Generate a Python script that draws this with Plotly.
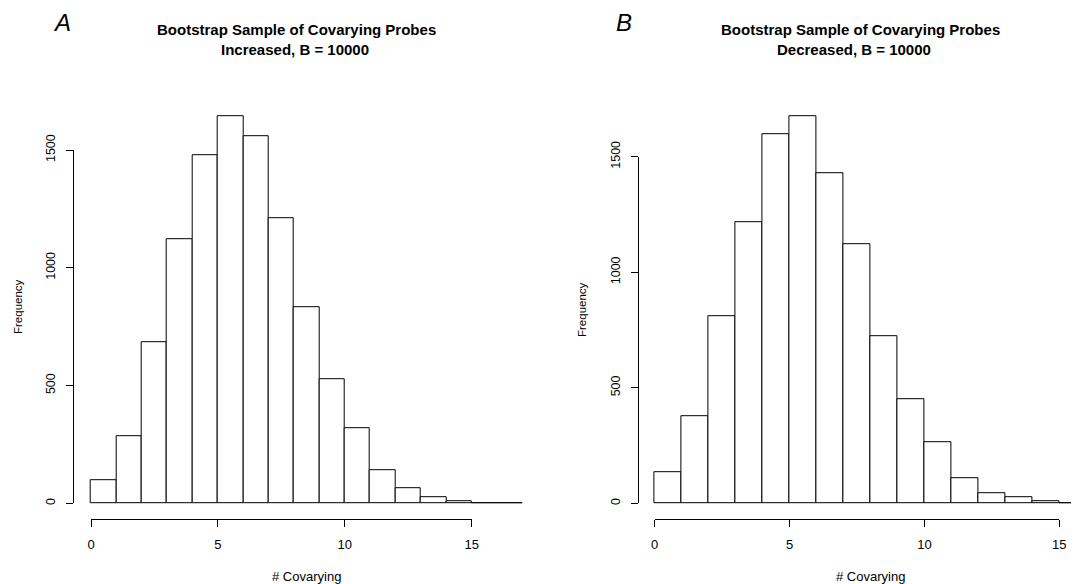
import numpy as np
import plotly.graph_objects as go

# The page body has an 8 px margin, so the figure is drawn 8 px in from the window's corner.
OFF = 8
W, H = 1079 - OFF, 584 - OFF

# ---- data ----
edges_inc = [0, 1, 2, 3, 4, 5, 6, 7, 8, 9, 10, 11, 12, 13, 14, 15, 16, 17]
counts_inc = [97, 286, 682, 1122, 1478, 1641, 1556, 1211, 833, 525, 318, 140, 64, 25, 7, 2, 1]

edges_dec = [0, 1, 2, 3, 4, 5, 6, 7, 8, 9, 10, 11, 12, 13, 14, 15, 16]
counts_dec = [135, 379, 810, 1216, 1597, 1673, 1428, 1123, 723, 451, 264, 108, 46, 26, 11, 2]

x_ticks = [0, 5, 10, 15]
y_ticks = [0, 500, 1000, 1500]

titles_inc = ["Bootstrap Sample of Covarying Probes", "Increased, B = 10000"]
titles_dec = ["Bootstrap Sample of Covarying Probes", "Decreased, B = 10000"]
xlab = "# Covarying"
ylab = "Frequency"

FONT = "Liberation Sans, Arial, Helvetica, sans-serif"


def px_x(p):
    return (p - OFF) / W


def px_y(p):
    return 1 - (p - OFF) / H


fig = go.Figure()

for i, (edges, counts) in enumerate([(edges_inc, counts_inc), (edges_dec, counts_dec)]):
    e = np.array(edges, dtype=float)
    centers = (e[:-1] + e[1:]) / 2
    widths = e[1:] - e[:-1]
    ax = "" if i == 0 else "2"
    fig.add_trace(go.Bar(
        x=centers, y=counts, width=widths,
        marker=dict(color="white", line=dict(color="black", width=1)),
        xaxis="x" + ax, yaxis="y" + ax, showlegend=False, hoverinfo="x+y",
    ))

# empty traces that carry the R-style tick axes
fig.add_trace(go.Scatter(x=[], y=[], xaxis="x3", yaxis="y3", showlegend=False))
fig.add_trace(go.Scatter(x=[], y=[], xaxis="x4", yaxis="y4", showlegend=False))

hidden = dict(showline=False, showgrid=False, zeroline=False, showticklabels=False, ticks="",
              automargin=False)

fig.update_layout(
    xaxis=dict(domain=[px_x(73.7), px_x(539.7)], range=[-0.68, 17.68], anchor="y", **hidden),
    yaxis=dict(domain=[px_y(518.8), px_y(101.2)], range=[-65.6, 1706.6], anchor="x", **hidden),
    xaxis2=dict(domain=[px_x(637.4), 1.0], range=[-0.64, (1079 - 654.7) / 26.97], anchor="y2", **hidden),
    yaxis2=dict(domain=[px_y(518.8), px_y(101.2)], range=[-66.9, 1739.9], anchor="x2", **hidden),
)

tick_common = dict(showline=True, linecolor="black", linewidth=1, showgrid=False, zeroline=False,
                   ticks="outside", ticklen=7, tickwidth=1, tickcolor="black", automargin=False)

fig.update_layout(
    xaxis3=dict(domain=[px_x(91), px_x(471.7)], range=[0, 15], anchor="free", position=px_y(519.3),
                tickvals=x_ticks, ticktext=[str(v) for v in x_ticks],
                tickfont=dict(family=FONT, size=13, color="black"), ticklabelstandoff=6, **tick_common),
    yaxis3=dict(domain=[px_y(503.3), px_y(150)], range=[0, 1500], anchor="free", position=px_x(73.3),
                tickvals=y_ticks, ticktext=[str(v) for v in y_ticks], tickangle=-90,
                tickfont=dict(family=FONT, size=12.5, color="black"), ticklabelstandoff=6, **tick_common),
    xaxis4=dict(domain=[px_x(654.7), px_x(1059.3)], range=[0, 15], anchor="free", position=px_y(519.3),
                tickvals=x_ticks, ticktext=[str(v) for v in x_ticks],
                tickfont=dict(family=FONT, size=13, color="black"), ticklabelstandoff=6, **tick_common),
    yaxis4=dict(domain=[px_y(503.3), px_y(156.7)], range=[0, 1500], anchor="free", position=px_x(637.7),
                tickvals=y_ticks, ticktext=[str(v) for v in y_ticks], tickangle=-90,
                tickfont=dict(family=FONT, size=12.5, color="black"), ticklabelstandoff=6, **tick_common),
)

ann = []


def add_text(text, x, y, size, bold=False, italic=False, angle=0):
    t = text
    if bold:
        t = "<b>" + t + "</b>"
    if italic:
        t = "<i>" + t + "</i>"
    ann.append(dict(text=t, x=px_x(x), y=px_y(y), xref="paper", yref="paper",
                    xanchor="center", yanchor="middle", showarrow=False, textangle=angle,
                    font=dict(family=FONT, size=size, color="black")))


add_text("A", 61.5, 22, 24, italic=True)
add_text("B", 624, 22, 24, italic=True)
add_text(titles_inc[0], 296.7, 30, 15, bold=True)
add_text(titles_inc[1], 295, 50, 15, bold=True)
add_text(titles_dec[0], 860.8, 30, 15, bold=True)
add_text(titles_dec[1], 854, 50, 15, bold=True)
add_text(ylab, 18, 307, 11.5, angle=-90)
add_text(ylab, 582, 310, 11.5, angle=-90)
add_text(xlab, 306.7, 576, 13, angle=0)
add_text(xlab, 870, 576, 13, angle=0)

fig.update_layout(
    annotations=ann,
    width=W, height=H,
    margin=dict(l=0, r=0, t=0, b=0, pad=0, autoexpand=False),
    paper_bgcolor="white", plot_bgcolor="rgba(0,0,0,0)",
    bargap=0, barmode="overlay",
    showlegend=False,
)

fig.write_html("out.html")
